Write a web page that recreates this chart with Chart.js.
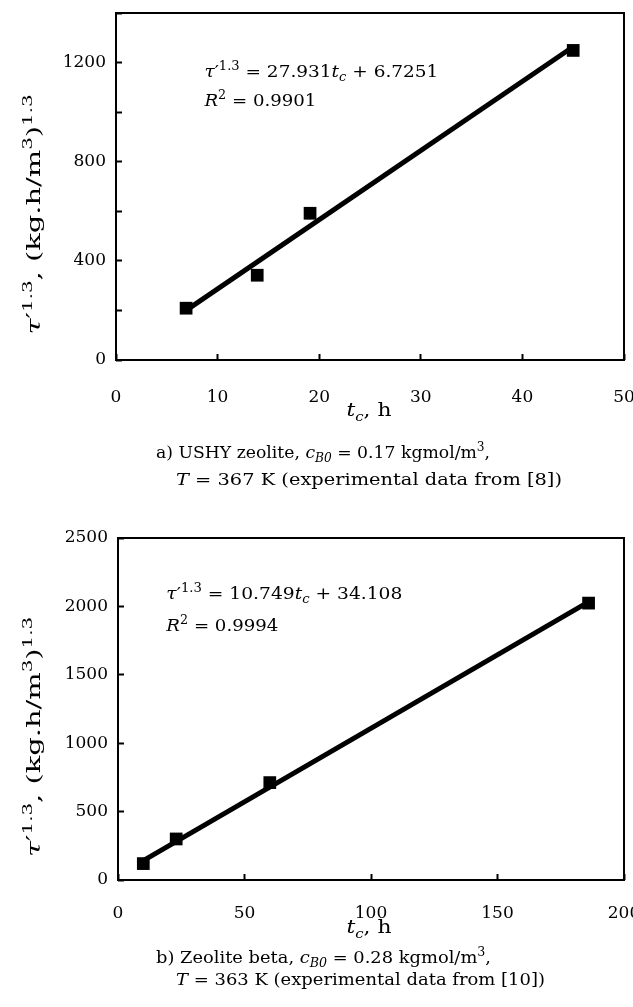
<!DOCTYPE html>
<html>
<head>
<meta charset="utf-8">
<script src="https://cdn.jsdelivr.net/npm/chart.js@4.4.1/dist/chart.umd.min.js"></script>
<style>
  body { margin: 0; background: #fff; }
  .wrap { position: relative; width: 633px; height: 1007px; }
  canvas { position: absolute; left: 0; }
</style>
</head>
<body>
<div class="wrap">
  <canvas id="chartA" width="633" height="500" style="top:0"></canvas>
  <canvas id="chartB" width="633" height="507" style="top:500px"></canvas>
</div>
<script>
// a) USHY zeolite
const usyTime = [6.9, 13.9, 19.1, 45.0];
const usyTau = [209, 342, 592, 1249];
const usyFitTime = [6.9, 45.0];
const usyFitTau = [200, 1264];
const usyXTicks = [0, 10, 20, 30, 40, 50];
const usyYTicks = [0, 200, 400, 600, 800, 1000, 1200, 1400];
const usyYLabels = [0, 400, 800, 1200];

// b) Zeolite beta
const betaTime = [10, 23, 60, 186];
const betaTau = [120, 300, 712, 2024];
const betaFitTime = [10, 186];
const betaFitTau = [142, 2033];
const betaXTicks = [0, 50, 100, 150, 200];
const betaYTicks = [0, 500, 1000, 1500, 2000, 2500];
const betaYLabels = [0, 500, 1000, 1500, 2000, 2500];

const FAMILY = '"DejaVu Serif", serif';

// draws text made of pieces [text, style]; style may hold 'i', 'sup', 'sub'
// opt.width stretches the line sideways to that width
function drawRich(ctx, x, y, parts, size, opt = {}) {
  const setFont = (st) => {
    const small = st.includes('sup') || st.includes('sub');
    const s = small ? Math.round(size * 0.7) : size;
    ctx.font = (st.includes('i') ? 'italic ' : '') + s + 'px ' + FAMILY;
  };
  let w = 0;
  parts.forEach(([t, st]) => { setFont(st); w += ctx.measureText(t).width; });
  const k = opt.width ? opt.width / w : 1;
  const start = opt.align === 'center' ? x - (w * k) / 2 : x;
  ctx.save();
  ctx.translate(start, y);
  ctx.scale(k, 1);
  ctx.textAlign = 'left';
  ctx.textBaseline = 'alphabetic';
  let cx = 0;
  parts.forEach(([t, st]) => {
    setFont(st);
    let dy = 0;
    if (st.includes('sup')) dy = -size * 0.42;
    if (st.includes('sub')) dy = size * 0.25;
    ctx.fillText(t, cx, dy);
    cx += ctx.measureText(t).width;
  });
  ctx.restore();
}

const yTitle = [['τ', 'i'], ['′', ''], ['1.3', 'sup'], [', (kg.h/m', ''], ['3', 'sup'], [')', ''], ['1.3', 'sup']];
const xTitle = [['t', 'i'], ['c', 'i sub'], [', h', '']];

const decor = {
  id: 'decor',
  afterDraw(chart, args, o) {
    const { ctx, chartArea: a, scales: { x, y } } = chart;
    ctx.save();
    ctx.fillStyle = '#000';
    ctx.strokeStyle = '#000';
    ctx.lineWidth = 2;
    ctx.strokeRect(a.left, a.top, a.right - a.left, a.bottom - a.top);

    drawRich(ctx, x.getPixelForValue(o.eqAt[0]), y.getPixelForValue(o.eqAt[1]), o.eq, 17, { width: o.eqWidth });
    drawRich(ctx, x.getPixelForValue(o.r2At[0]), y.getPixelForValue(o.r2At[1]), o.r2, 17, { width: o.r2Width });

    // axis titles
    drawRich(ctx, 369, a.bottom + o.xTitleGap, xTitle, 19, { align: 'center', width: 45 });
    ctx.save();
    ctx.translate(40, (a.top + a.bottom) / 2 + 28);
    ctx.rotate(-Math.PI / 2);
    drawRich(ctx, 0, 0, yTitle, 19, { align: 'center', width: 240 });
    ctx.restore();

    // caption under the plot
    o.caption.forEach(line => drawRich(ctx, line.x, line.y, line.parts, 17, { width: line.w }));
    ctx.restore();
  }
};

function makeChart(id, d) {
  const tickFont = { family: FAMILY, size: 17 };
  return new Chart(document.getElementById(id), {
    type: 'scatter',
    data: {
      datasets: [
        {
          data: d.fitX.map((v, i) => ({ x: v, y: d.fitY[i] })),
          showLine: true,
          borderColor: '#000',
          borderWidth: 5,
          pointRadius: 0
        },
        {
          data: d.px.map((v, i) => ({ x: v, y: d.py[i] })),
          pointStyle: 'rect',
          pointRadius: 9,
          backgroundColor: '#000',
          borderWidth: 0
        }
      ]
    },
    options: {
      responsive: false,
      animation: false,
      events: [],
      layout: { padding: { top: d.top, right: d.right, left: 0, bottom: 0 } },
      plugins: { legend: { display: false }, tooltip: { enabled: false }, decor: d.decor },
      scales: {
        x: {
          type: 'linear',
          min: d.xTicks[0],
          max: d.xTicks[d.xTicks.length - 1],
          afterBuildTicks: s => { s.ticks = d.xTicks.map(v => ({ value: v })); },
          afterFit: s => { s.height = d.xHeight; s.paddingLeft = 0; s.paddingRight = 0; },
          border: { display: false },
          grid: { drawOnChartArea: false, drawTicks: true, tickLength: -6, tickWidth: 2, tickColor: '#000' },
          ticks: { padding: d.xLabelPad, color: '#000', font: tickFont, maxRotation: 0, autoSkip: false, callback: v => String(v) }
        },
        y: {
          type: 'linear',
          min: d.yTicks[0],
          max: d.yTicks[d.yTicks.length - 1],
          afterBuildTicks: s => { s.ticks = d.yTicks.map(v => ({ value: v })); },
          afterFit: s => { s.width = d.yWidth; s.paddingTop = 0; s.paddingBottom = 0; },
          border: { display: false },
          grid: { drawOnChartArea: false, drawTicks: true, tickLength: -6, tickWidth: 2, tickColor: '#000' },
          ticks: { padding: 16, color: '#000', font: tickFont, autoSkip: false, callback: v => d.yLabels.includes(v) ? String(v) : '' }
        }
      }
    },
    plugins: [decor]
  });
}

makeChart('chartA', {
  px: usyTime, py: usyTau, fitX: usyFitTime, fitY: usyFitTau,
  xTicks: usyXTicks, yTicks: usyYTicks, yLabels: usyYLabels,
  top: 13, right: 7, yWidth: 116, xHeight: 140, xLabelPad: 33,
  decor: {
    eqAt: [8.7, 1142], eqWidth: 234, r2At: [8.7, 1025], r2Width: 112,
    eq: [['τ', 'i'], ['′', ''], ['1.3', 'sup'], [' = 27.931', ''], ['t', 'i'], ['c', 'i sub'], [' + 6.7251', '']],
    r2: [['R', 'i'], ['2', 'sup'], [' = 0.9901', '']],
    xTitleGap: 56,
    caption: [
      { x: 156, y: 458, w: 334, parts: [['a) USHY zeolite, ', ''], ['c', 'i'], ['B0', 'i sub'], [' = 0.17 kgmol/m', ''], ['3', 'sup'], [',', '']] },
      { x: 176, y: 485, w: 386, parts: [['T', 'i'], [' = 367 K (experimental data from [8])', '']] }
    ]
  }
});

makeChart('chartB', {
  px: betaTime, py: betaTau, fitX: betaFitTime, fitY: betaFitTau,
  xTicks: betaXTicks, yTicks: betaYTicks, yLabels: betaYLabels,
  top: 38, right: 8, yWidth: 118, xHeight: 127, xLabelPad: 29,
  decor: {
    eqAt: [19.1, 2054], eqWidth: 236, r2At: [19.1, 1820], r2Width: 112,
    eq: [['τ', 'i'], ['′', ''], ['1.3', 'sup'], [' = 10.749', ''], ['t', 'i'], ['c', 'i sub'], [' + 34.108', '']],
    r2: [['R', 'i'], ['2', 'sup'], [' = 0.9994', '']],
    xTitleGap: 53,
    caption: [
      { x: 156, y: 463, w: 335, parts: [['b) Zeolite beta, ', ''], ['c', 'i'], ['B0', 'i sub'], [' = 0.28 kgmol/m', ''], ['3', 'sup'], [',', '']] },
      { x: 176, y: 485, w: 369, parts: [['T', 'i'], [' = 363 K (experimental data from [10])', '']] }
    ]
  }
});
</script>
</body>
</html>
